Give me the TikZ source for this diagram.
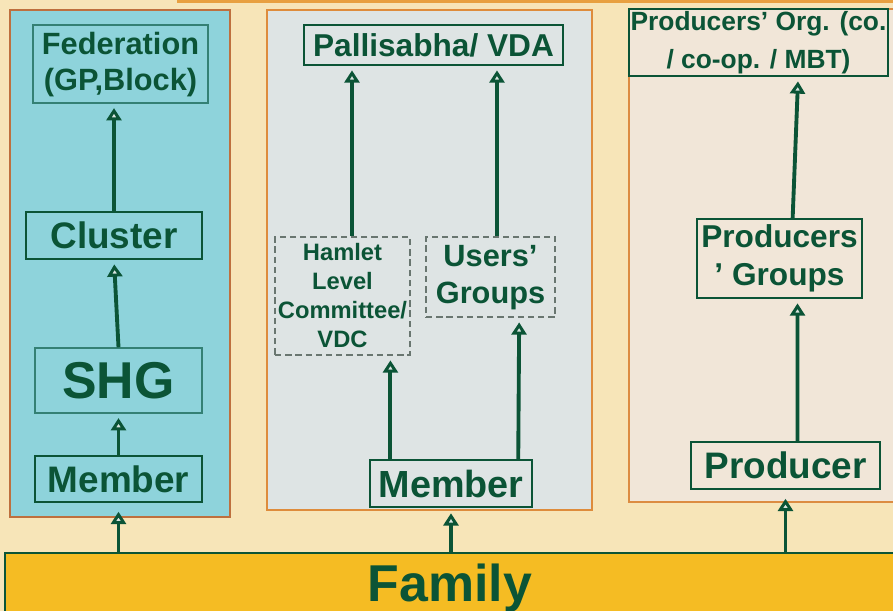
\documentclass[tikz,border=0pt]{standalone}
\usepackage{fontspec}
\setmainfont{Liberation Sans}
\usetikzlibrary{arrows.meta}

\definecolor{dkgreen}{RGB}{11,84,54}
\definecolor{tealedge}{RGB}{52,128,116}
\definecolor{dashgray}{RGB}{105,118,112}
\definecolor{bgcream}{RGB}{247,229,184}
\definecolor{topline}{RGB}{232,160,64}
\definecolor{tealfill}{RGB}{142,211,219}
\definecolor{grayfill}{RGB}{222,228,228}
\definecolor{beigefill}{RGB}{241,230,216}
\definecolor{famfill}{RGB}{245,188,35}
\definecolor{edgeL}{RGB}{190,112,62}
\definecolor{edgeM}{RGB}{222,140,60}
\definecolor{edgeR}{RGB}{220,140,66}

\tikzset{
    boxsize/.style 2 args={minimum width=#1*0.02cm, minimum height=#2*0.02cm},
    box/.style={draw=dkgreen, line width=1.1pt, text=dkgreen, align=center, inner sep=0pt},
    thinbox/.style={box, draw=tealedge, line width=0.8pt},
    dashbox/.style={box, draw=dashgray, line width=1.1pt, dash pattern=on 3.6pt off 2.2pt},
    arrow/.style={-{Triangle[length=7pt, width=8.5pt, fill=white!85!dkgreen, line width=1.7pt]}, line width=2.2pt, draw=dkgreen, shorten >=2.5pt},
    panel/.style={line width=1.7pt}
}

\begin{document}
\begin{tikzpicture}[x=0.02cm, y=-0.02cm]
\useasboundingbox (0,0) rectangle (893,611);
\clip (0,0) rectangle (893,611);
\fill[bgcream] (0,0) rectangle (893,611);
\draw[topline, line width=1.7pt] (177,1.5) -- (893,1.5);

% Panels
\filldraw[panel, fill=tealfill, draw=edgeL] (10,10) rectangle (230,517);
\filldraw[panel, fill=grayfill, draw=edgeM] (267,10) rectangle (592,510);
\filldraw[panel, fill=beigefill, draw=edgeR] (629,9) rectangle (910,502);

% Family
\node[draw=dkgreen, fill=famfill, line width=1.1pt, boxsize={910}{80}, anchor=north west] (fam) at (4,552) {};
\node[text=dkgreen, font=\fontsize{29.5}{30}\selectfont\bfseries, anchor=base] (famtext) at (450,601) {Family};

% Left column
\node[thinbox, boxsize={175}{78}, text depth=3pt, font=\fontsize{17.5}{21}\selectfont\bfseries] (fed) at (120.5,64) {Federation\\(GP,Block)};
\node[box, boxsize={176}{47}, font=\fontsize{21}{24}\selectfont\bfseries] (cluster) at (114,235.5) {Cluster};
\node[thinbox, boxsize={167}{65}, font=\fontsize{29.5}{30}\selectfont\bfseries] (shg) at (118.5,380.5) {SHG};
\node[box, boxsize={167}{46}, font=\fontsize{21}{24}\selectfont\bfseries] (memberL) at (118.5,479) {Member};

% Middle column
\node[box, boxsize={259}{40}, font=\fontsize{18}{21}\selectfont\bfseries] (palli) at (433.5,45) {Pallisabha/ VDA};
\node[dashbox, boxsize={135}{118}, font=\fontsize{13.5}{16.5}\selectfont\bfseries] (hamlet) at (342.5,296) {Hamlet\\Level\\Committee/\\VDC};
\node[dashbox, boxsize={129}{80}, text depth=3pt, font=\fontsize{17.5}{21.5}\selectfont\bfseries] (users) at (490.5,277) {Users’\\Groups};
\node[box, boxsize={162}{47}, font=\fontsize{21.5}{24}\selectfont\bfseries] (memberM) at (451,483.5) {Member};

% Right column
\node[box, boxsize={259}{67}, font=\fontsize{15}{21.5}\selectfont\bfseries] (org) at (758.5,42.5) {Producers’ Org. (co.\\/ co-op. / MBT)};
\node[box, boxsize={165}{79}, font=\fontsize{18}{21.5}\selectfont\bfseries] (pgroups) at (779.5,258.5) {Producers\\’ Groups};
\node[box, boxsize={189}{47}, font=\fontsize{21}{24}\selectfont\bfseries] (producer) at (785.5,465.5) {Producer};

% Arrows
\draw[arrow] (memberL) -- (shg);
\draw[arrow] (shg.north) -- (cluster.south);
\draw[arrow] (cluster.north) -- (cluster.north |- fed.south);
\draw[arrow, shorten >=5pt] (memberL.south |- fam.north) -- (memberL.south);

\draw[arrow] (hamlet.81) -- (hamlet.81 |- palli.south);
\draw[arrow] (users.81) -- (users.81 |- palli.south);
\draw[arrow] (memberM.158) -- (memberM.158 |- hamlet.south);
\draw[arrow] (memberM.20) -- (users.-55);
\draw[arrow, shorten >=3pt] (memberM.south |- fam.north) -- (memberM.south);

\draw[arrow] (pgroups.72) -- (org.-41);
\draw[arrow] (producer.64) -- (pgroups.-66);
\draw[arrow, shorten >=5pt] (producer.south |- fam.north) -- (producer.south);

\end{tikzpicture}
\end{document}
